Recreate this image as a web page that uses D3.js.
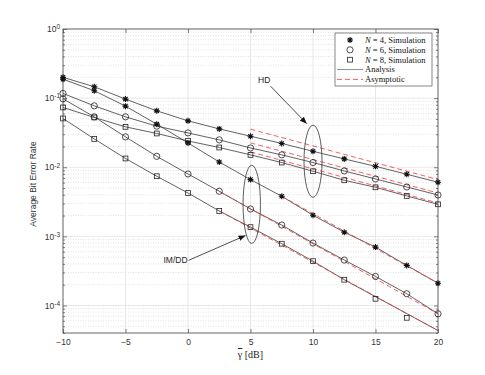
<!DOCTYPE html>
<html>
<head>
<meta charset="utf-8">
<script src="https://cdn.jsdelivr.net/npm/d3@7"></script>
<style>
body { margin: 0; background: #fff; }
svg { display: block; }
</style>
</head>
<body>
<div id="chart"></div>
<script>
var width = 485,
  height = 375;
var margin = {top: 29, right: 47, bottom: 42, left: 63};

// SNR grid (dB) used for every curve
var snr = [-10, -7.5, -5, -2.5, 0, 2.5, 5, 7.5, 10, 12.5, 15, 17.5, 20];

// analysis curves
var hd4 = [0.200, 0.146, 0.0968, 0.0655, 0.0469, 0.0359, 0.0281, 0.0221, 0.0170, 0.0132, 0.0103, 0.00792, 0.00607];
var im4 = [0.188, 0.128, 0.0766, 0.0420, 0.0225, 0.0119, 0.00663, 0.00380, 0.00202, 0.00115, 0.000699, 0.000380, 0.000210];
var hd6 = [0.117, 0.0773, 0.0536, 0.0393, 0.0314, 0.0249, 0.0190, 0.0151, 0.0117, 0.00884, 0.00677, 0.00518, 0.00397];
var im6 = [0.0977, 0.0536, 0.0275, 0.0144, 0.00799, 0.00449, 0.00249, 0.00146, 0.000800, 0.000454, 0.000263, 0.000148, 0.0000758];
var hd8 = [0.0733, 0.0525, 0.0384, 0.0308, 0.0240, 0.0193, 0.0151, 0.0117, 0.00875, 0.00648, 0.00513, 0.00384, 0.00291];
var im8 = [0.0508, 0.0257, 0.0134, 0.00741, 0.00424, 0.00233, 0.00136, 0.000783, 0.000438, 0.000236, 0.000134, 0.0000764, 0.0000434];

// simulation points (same as analysis except where they visibly differ)
var simIm8 = [0.0508, 0.0257, 0.0134, 0.00741, 0.00424, 0.00233, 0.00136, 0.000783, 0.000438, 0.000236, 0.000125, 0.0000664, null];

// asymptotic lines [snr, ber]
var asymHd4 = [[5, 0.0356], [20, 0.00663]];
var asymHd6 = [[5, 0.0225], [20, 0.00424]];
var asymHd8 = [[5, 0.0167], [20, 0.00304]];
var asymIm4 = [[7.5, 0.00380], [20, 0.000210]];
var asymIm6 = [[2.5, 0.00449], [20, 0.0000758]];
var asymIm8 = [[2.5, 0.00233], [20, 0.0000434]];

var xTicks = [-10, -5, 0, 5, 10, 15, 20];
var yMajor = [1e-4, 1e-3, 1e-2, 1e-1, 1];
var yExp = ["-4", "-3", "-2", "-1", "0"];

var legendLabels = ["4", "6", "8"];

var x = d3.scaleLinear()
  .domain([-10, 20])
  .range([margin.left, width - margin.right]);

var y = d3.scaleLog()
  .domain([4e-5, 1])
  .range([height - margin.bottom, margin.top]);

var yMinor = [];
[-5, -4, -3, -2, -1].forEach(function (e) {
  for (var k = 2; k <= 9; k++) {
    var v = k * Math.pow(10, e);
    if (v >= 4e-5 && v < 1) yMinor.push(v);
  }
});

var svg = d3.select("#chart")
  .append("svg")
  .attr("width", width)
  .attr("height", height);

svg.append("rect")
  .attr("width", width)
  .attr("height", height)
  .attr("fill", "#fff");

var x0 = margin.left, x1 = width - margin.right;
var y0 = margin.top, y1 = height - margin.bottom;

// grid
svg.append("g").selectAll("line")
  .data(yMinor)
  .enter().append("line")
  .attr("x1", x0).attr("x2", x1)
  .attr("y1", function (d) { return y(d); })
  .attr("y2", function (d) { return y(d); })
  .attr("stroke", "#cfcfcf")
  .attr("stroke-width", 0.6)
  .attr("stroke-dasharray", "1,1.5");

svg.append("g").selectAll("line")
  .data(yMajor)
  .enter().append("line")
  .attr("x1", x0).attr("x2", x1)
  .attr("y1", function (d) { return y(d); })
  .attr("y2", function (d) { return y(d); })
  .attr("stroke", "#e2e2e2")
  .attr("stroke-width", 0.8);

svg.append("g").selectAll("line")
  .data(xTicks)
  .enter().append("line")
  .attr("y1", y0).attr("y2", y1)
  .attr("x1", function (d) { return x(d); })
  .attr("x2", function (d) { return x(d); })
  .attr("stroke", "#e2e2e2")
  .attr("stroke-width", 0.8);

// axes (ticks inward)
var tickFont = "'Liberation Sans', Arial, sans-serif";
var axisColor = "#4a4a4a";

function styleAxis(g) {
  g.select(".domain").remove();
  g.selectAll(".tick line").attr("stroke", axisColor).attr("stroke-width", 0.7);
  g.selectAll("text").attr("fill", "#333").style("font-family", tickFont).style("font-size", "8.5px");
}

svg.append("g")
  .attr("transform", "translate(0," + y1 + ")")
  .call(d3.axisBottom(x).tickValues(xTicks).tickSize(-4).tickPadding(6).tickFormat(d3.format("d")))
  .call(styleAxis);

svg.append("g")
  .attr("transform", "translate(0," + y0 + ")")
  .call(d3.axisTop(x).tickValues(xTicks).tickSize(-4).tickFormat(""))
  .call(styleAxis);

[[d3.axisLeft, x0], [d3.axisRight, x1]].forEach(function (a) {
  svg.append("g")
    .attr("transform", "translate(" + a[1] + ",0)")
    .call(a[0](y).tickValues(yMajor).tickSize(-4).tickFormat(""))
    .call(styleAxis);
  svg.append("g")
    .attr("transform", "translate(" + a[1] + ",0)")
    .call(a[0](y).tickValues(yMinor).tickSize(-2).tickFormat(""))
    .call(styleAxis);
});

// y tick labels with superscripts
var yl = svg.append("g").selectAll("text")
  .data(yMajor)
  .enter().append("text")
  .attr("x", x0 - 3)
  .attr("y", function (d) { return y(d); })
  .attr("dy", "0.38em")
  .attr("text-anchor", "end")
  .attr("fill", "#333")
  .style("font-family", tickFont)
  .style("font-size", "8.5px");
yl.append("tspan").text("10");
yl.append("tspan")
  .attr("dy", "-0.45em")
  .style("font-size", "6.5px")
  .text(function (d, i) { return yExp[i]; });

// box
svg.append("rect")
  .attr("x", x0).attr("y", y0)
  .attr("width", x1 - x0).attr("height", y1 - y0)
  .attr("fill", "none")
  .attr("stroke", axisColor)
  .attr("stroke-width", 0.8);

// curves
var lineColor = "#3a3a3a";
var red = "#f0393c";

var line = d3.line()
  .defined(function (d) { return d[1] != null; })
  .x(function (d) { return x(d[0]); })
  .y(function (d) { return y(d[1]); });

function pairs(vals) {
  return snr.map(function (s, i) { return [s, vals[i]]; });
}

var curves = [hd4, im4, hd6, im6, hd8, im8];
curves.forEach(function (c) {
  svg.append("path")
    .attr("d", line(pairs(c)))
    .attr("fill", "none")
    .attr("stroke", lineColor)
    .attr("stroke-width", 0.8);
});

[asymHd4, asymHd6, asymHd8, asymIm4, asymIm6, asymIm8].forEach(function (a) {
  svg.append("path")
    .attr("d", line(a))
    .attr("fill", "none")
    .attr("stroke", red)
    .attr("stroke-width", 0.8)
    .attr("stroke-dasharray", "5,3");
});

// markers
function star(g, cx, cy) {
  var r = 3;
  var d = r * 0.72;
  g.append("path")
    .attr("d", "M" + (cx - r) + "," + cy + "H" + (cx + r) +
      "M" + cx + "," + (cy - r) + "V" + (cy + r) +
      "M" + (cx - d) + "," + (cy - d) + "L" + (cx + d) + "," + (cy + d) +
      "M" + (cx - d) + "," + (cy + d) + "L" + (cx + d) + "," + (cy - d))
    .attr("stroke", "#111")
    .attr("stroke-width", 1.1)
    .attr("fill", "none");
}
function circ(g, cx, cy) {
  g.append("circle")
    .attr("cx", cx).attr("cy", cy).attr("r", 3.1)
    .attr("fill", "none")
    .attr("stroke", "#222")
    .attr("stroke-width", 0.8);
}
function sq(g, cx, cy) {
  g.append("rect")
    .attr("x", cx - 2.4).attr("y", cy - 2.4)
    .attr("width", 4.8).attr("height", 4.8)
    .attr("fill", "none")
    .attr("stroke", "#222")
    .attr("stroke-width", 0.8);
}

var mk = svg.append("g");
function drawMarkers(vals, fn) {
  vals.forEach(function (v, i) {
    if (v == null) return;
    fn(mk, x(snr[i]), y(v));
  });
}
drawMarkers(hd4, star);
drawMarkers(im4, star);
drawMarkers(hd6, circ);
drawMarkers(im6, circ);
drawMarkers(hd8, sq);
drawMarkers(simIm8, sq);

// annotations
svg.append("defs").append("marker")
  .attr("id", "arr")
  .attr("viewBox", "0 0 10 10")
  .attr("refX", 10).attr("refY", 5)
  .attr("markerWidth", 7).attr("markerHeight", 7)
  .attr("markerUnits", "userSpaceOnUse")
  .attr("orient", "auto")
  .append("path")
  .attr("d", "M0,1 L10,5 L0,9 z")
  .attr("fill", "#111");

function ellipse(cxDb, topV, botV, rx) {
  var t = y(topV), b = y(botV);
  svg.append("ellipse")
    .attr("cx", x(cxDb)).attr("cy", (t + b) / 2)
    .attr("rx", rx).attr("ry", (b - t) / 2)
    .attr("fill", "none")
    .attr("stroke", "#333")
    .attr("stroke-width", 0.8);
}
ellipse(10, 0.0406, 0.00367, 9);
ellipse(5.1, 0.0107, 0.00079, 8.7);

function arrow(a, b) {
  svg.append("line")
    .attr("x1", x(a[0])).attr("y1", y(a[1]))
    .attr("x2", x(b[0])).attr("y2", y(b[1]))
    .attr("stroke", "#222")
    .attr("stroke-width", 0.8)
    .attr("marker-end", "url(#arr)");
}
arrow([6.6, 0.149], [9.5, 0.0427]);
arrow([0.05, 0.00045], [4.6, 0.00103]);

function note(db, v, txt) {
  svg.append("text")
    .attr("x", x(db)).attr("y", y(v))
    .attr("dy", "0.35em")
    .attr("text-anchor", "middle")
    .attr("fill", "#222")
    .style("font-family", tickFont)
    .style("font-size", "8.5px")
    .text(txt);
}
note(6.1, 0.182, "HD");
note(-1.0, 0.00046, "IM/DD");

// axis labels
svg.append("text")
  .attr("transform", "translate(33," + 184 + ") rotate(-90)")
  .attr("text-anchor", "middle")
  .attr("dy", "0.35em")
  .attr("fill", "#333")
  .style("font-family", tickFont)
  .style("font-size", "8.5px")
  .text("Average Bit Error Rate");

var xl = svg.append("text")
  .attr("x", (x0 + x1) / 2)
  .attr("y", 358)
  .attr("text-anchor", "middle")
  .attr("fill", "#222")
  .style("font-family", "'Liberation Serif', 'Times New Roman', serif")
  .style("font-size", "10px");
xl.append("tspan").style("text-decoration", "overline").text("γ");
xl.append("tspan").text(" [dB]");

// legend
var serif = "'Liberation Serif', 'Times New Roman', serif";
var lg = svg.append("g");
lg.append("rect")
  .attr("x", 335).attr("y", 33)
  .attr("width", 97).attr("height", 53)
  .attr("fill", "#fff")
  .attr("stroke", "#555")
  .attr("stroke-width", 0.7);

var rowY = function (i) { return 40 + i * 9.85; };
var legFns = [star, circ, sq];
legendLabels.forEach(function (n, i) {
  legFns[i](lg, 350, rowY(i));
  var t = lg.append("text")
    .attr("x", 365).attr("y", rowY(i))
    .attr("dy", "0.33em")
    .attr("fill", "#111")
    .style("font-family", serif)
    .style("font-size", "8.5px");
  t.append("tspan").style("font-style", "italic").text("N");
  t.append("tspan").text(" = " + n + ", Simulation");
});

lg.append("line")
  .attr("x1", 337).attr("x2", 363)
  .attr("y1", rowY(3)).attr("y2", rowY(3))
  .attr("stroke", "#777").attr("stroke-width", 0.8);
lg.append("line")
  .attr("x1", 337).attr("x2", 363)
  .attr("y1", rowY(4)).attr("y2", rowY(4))
  .attr("stroke", red).attr("stroke-width", 0.8)
  .attr("stroke-dasharray", "5,3");
["Analysis", "Asymptotic"].forEach(function (s, i) {
  lg.append("text")
    .attr("x", 365).attr("y", rowY(3 + i))
    .attr("dy", "0.33em")
    .attr("fill", "#111")
    .style("font-family", serif)
    .style("font-size", "8.5px")
    .text(s);
});
</script>
</body>
</html>
